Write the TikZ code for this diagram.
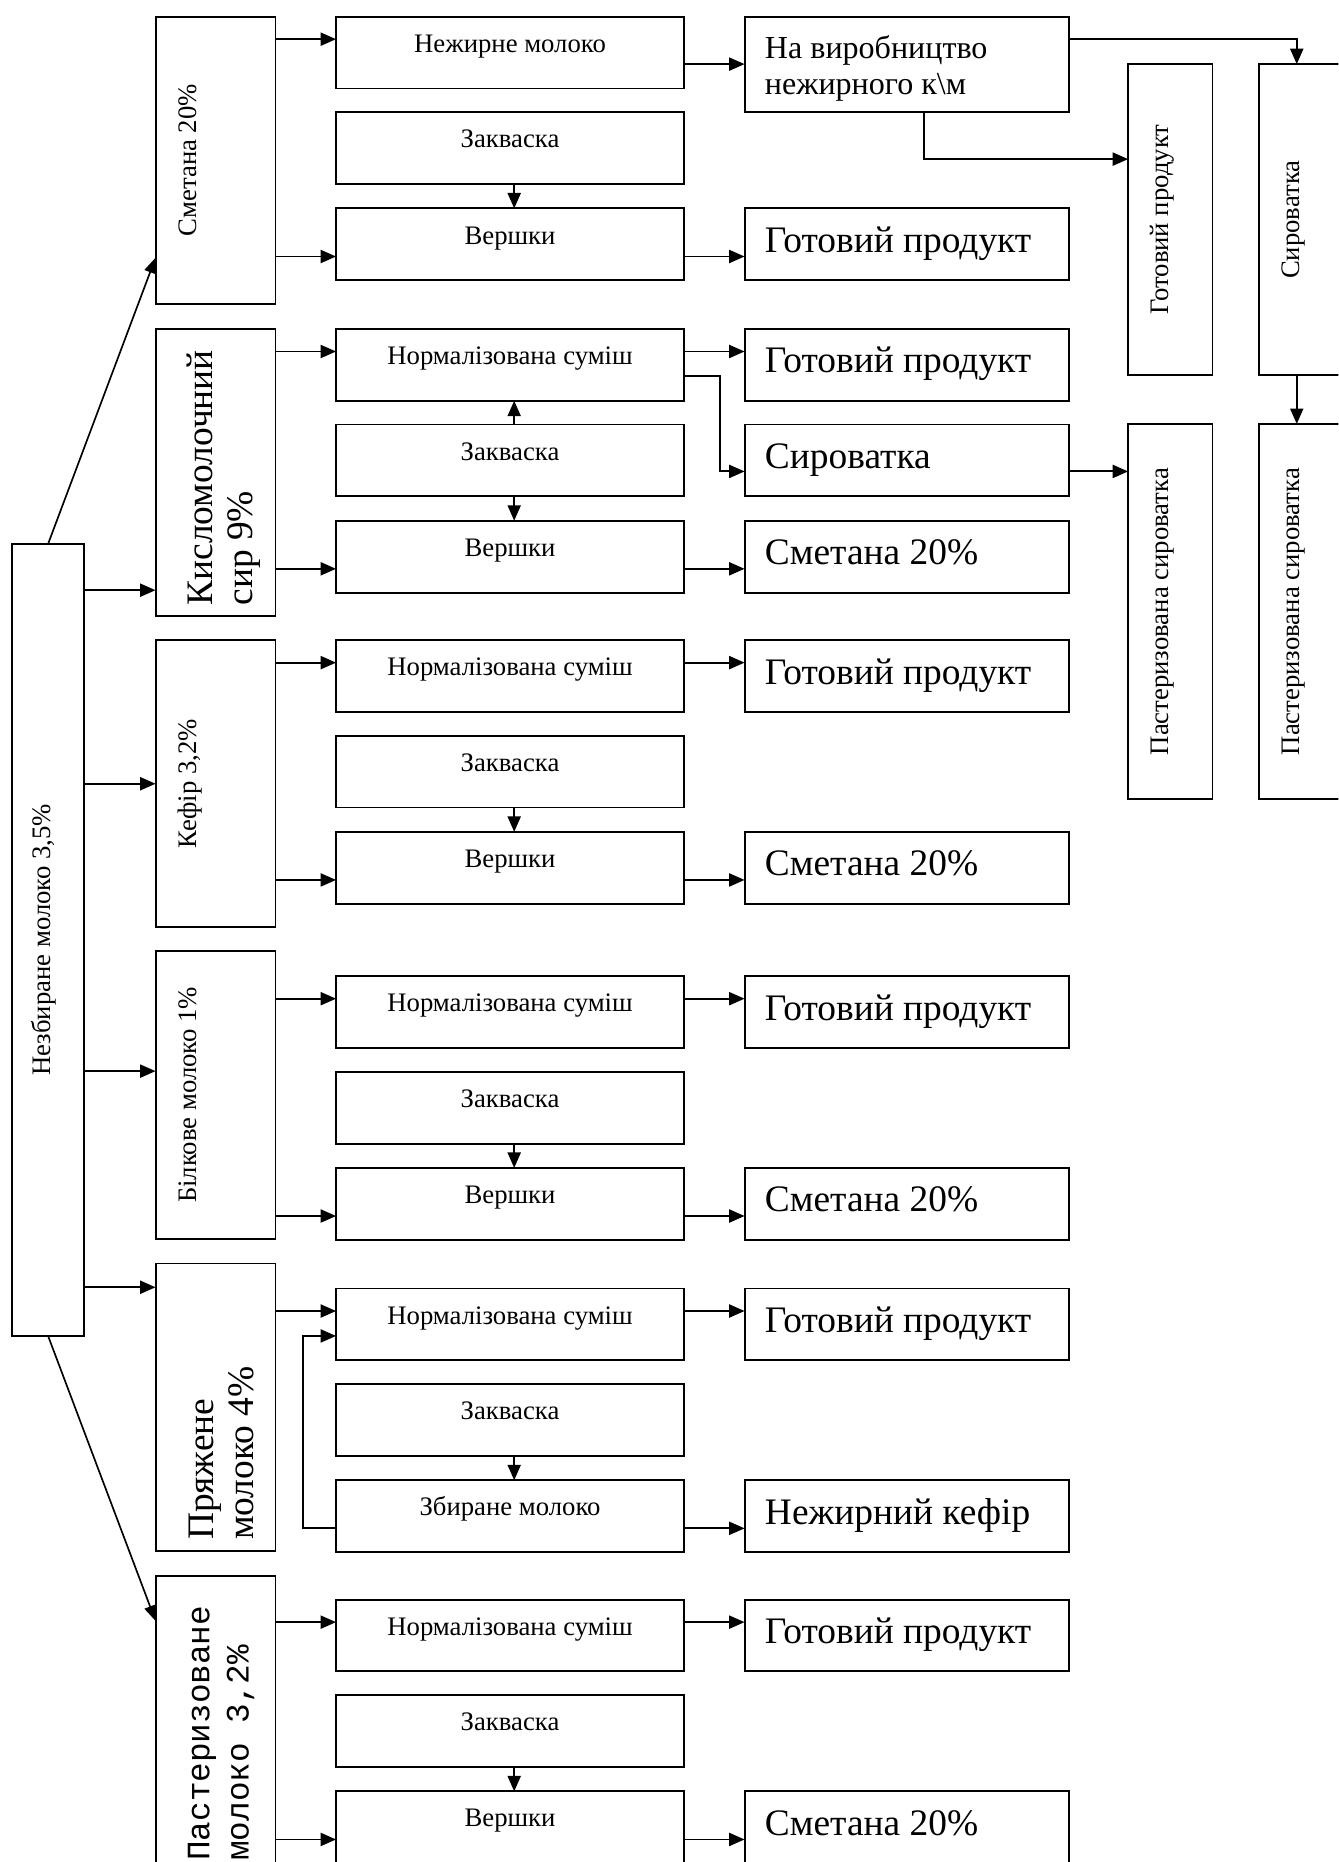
\documentclass[tikz,border=0pt]{standalone}
\usepackage{fontspec}
\setmainfont{Liberation Serif}
\newfontfamily\monofam{Liberation Mono}
\usetikzlibrary{arrows.meta}
\tikzset{
 box/.style={draw, line width=1.6pt, inner sep=0pt, outer sep=0pt, rectangle, anchor=north west},
 stxt/.style={font=\fontsize{22.5}{26}\selectfont, inner sep=0pt},
 btxt/.style={font=\fontsize{31.5}{34}\selectfont, inner sep=0pt},
 vtxt/.style={stxt, rotate=90, anchor=mid},
 conn/.style={line width=1.6pt, -{Triangle[length=13pt,width=11pt]}},
 diag/.style={line width=1.4pt, -{Triangle[length=13pt,width=10pt]}},
}
\newcommand\cbox[3]{\node[box,minimum width=293pt,minimum height=60.5pt] (#1) at (283pt,-#2pt) {};
 \node[stxt,anchor=base] (#1t) at ([yshift=-30pt]#1.north) {#3};}
\newcommand\dbox[3]{\node[box,minimum width=273pt,minimum height=60.5pt] (#1) at (627pt,-#2pt) {};
 \node[btxt,anchor=base west] (#1t) at ([xshift=17pt,yshift=-37pt]#1.north west) {#3};}
\newcommand\bbox[2]{\node[box,minimum width=101pt,minimum height=242pt] (#1) at (131pt,-#2pt) {};}
\newcommand\ycoord[1]{\coordinate (y#1) at (0pt,-#1pt);}
\newcommand\xcoord[1]{\coordinate (x#1) at (#1pt,0pt);}
\begin{document}
\begin{tikzpicture}
\fill[white] (0pt,0pt) rectangle (1127pt,-1568pt);
\useasboundingbox (0pt,0pt) rectangle (1127pt,-1568pt);
\clip (0pt,0pt) rectangle (1127pt,-1568pt);

% helper coordinates
\ycoord{33}\ycoord{54}\ycoord{134}\ycoord{216}\ycoord{217}
\ycoord{296}\ycoord{317}\ycoord{397}\ycoord{479}\ycoord{497}
\ycoord{558}\ycoord{660}\ycoord{741}\ycoord{841}\ycoord{902}\ycoord{1024}
\ycoord{1084}\ycoord{1104}\ycoord{1125}\ycoord{1287}\ycoord{1365}\ycoord{1366}\ycoord{1549}
\xcoord{255}\xcoord{433}\xcoord{606}\xcoord{778}\xcoord{1092}

% main source
\node[box,minimum width=61pt,minimum height=667pt] (A) at (10pt,-458pt) {};
\node[vtxt] (At) at (A.center) {Незбиране молоко 3,5\%};

% product boxes
\bbox{B1}{14}\bbox{B2}{277}\bbox{B3}{539}\bbox{B4}{801}\bbox{B5}{1064}\bbox{B6}{1327}
\node[vtxt] (B1t) at (163pt,-135pt) {Сметана 20\%};
\node[btxt,rotate=90,anchor=north west,align=left] (B2t) at (157pt,-510pt) {Кисломолочний\\сир 9\%};
\node[vtxt] (B3t) at (163pt,-660pt) {Кефір 3,2\%};
\node[vtxt] (B4t) at (163pt,-922pt) {Білкове молоко 1\%};
\node[btxt,rotate=90,anchor=north west,align=left] (B5t) at (159pt,-1297pt) {Пряжене\\молоко 4\%};
\node[font=\monofam\fontsize{27.5}{33}\selectfont,inner sep=0pt,rotate=90,anchor=north west,align=left] (B6t) at (158pt,-1567pt) {Пастеризоване\\молоко 3,2\%};

% row 1
\cbox{C1a}{14}{Нежирне молоко}
\cbox{C1b}{94.5}{Закваска}
\cbox{C1c}{175.5}{Вершки}
\node[box,minimum width=273pt,minimum height=80pt] (D1a) at (627pt,-14pt) {};
\node[font=\fontsize{27}{30}\selectfont,inner sep=0pt,align=left,anchor=north west] (D1at) at ([xshift=17pt,yshift=-16pt]D1a.north west) {На виробництво\\нежирного к\textbackslash м};
\dbox{D1c}{175.5}{Готовий продукт}
% row 2
\cbox{C2a}{277}{Нормалізована суміш}
\cbox{C2b}{357.5}{Закваска}
\cbox{C2c}{438.5}{Вершки}
\dbox{D2a}{277}{Готовий продукт}
\dbox{D2b}{357.5}{Сироватка}
\dbox{D2c}{438.5}{Сметана 20\%}
% row 3
\cbox{C3a}{539}{Нормалізована суміш}
\cbox{C3b}{619.5}{Закваска}
\cbox{C3c}{700.5}{Вершки}
\dbox{D3a}{539}{Готовий продукт}
\dbox{D3c}{700.5}{Сметана 20\%}
% row 4
\cbox{C4a}{822}{Нормалізована суміш}
\cbox{C4b}{902.5}{Закваска}
\cbox{C4c}{983.5}{Вершки}
\dbox{D4a}{822}{Готовий продукт}
\dbox{D4c}{983.5}{Сметана 20\%}
% row 5
\cbox{C5a}{1085}{Нормалізована суміш}
\cbox{C5b}{1165.5}{Закваска}
\cbox{C5c}{1246.5}{Збиране молоко}
\dbox{D5a}{1085}{Готовий продукт}
\dbox{D5c}{1246.5}{Нежирний кефір}
% row 6
\cbox{C6a}{1347}{Нормалізована суміш}
\cbox{C6b}{1427.5}{Закваска}
\cbox{C6c}{1508.5}{Вершки}
\dbox{D6a}{1347}{Готовий продукт}
\dbox{D6c}{1508.5}{Сметана 20\%}

% right columns
\node[box,minimum width=71pt,minimum height=262pt] (E1) at (950pt,-54pt) {};
\node[box,minimum width=71pt,minimum height=316pt] (E2) at (950pt,-357pt) {};
\node[box,minimum width=71pt,minimum height=262pt] (F1) at (1060pt,-54pt) {};
\node[box,minimum width=71pt,minimum height=316pt] (F2) at (1060pt,-357pt) {};
\node[vtxt] (E1t) at (982pt,-185pt) {Готовий продукт};
\node[vtxt] (E2t) at (982pt,-515pt) {Пастеризована сироватка};
\node[vtxt] (F1t) at (1092pt,-185pt) {Сироватка};
\node[vtxt] (F2t) at (1092pt,-515pt) {Пастеризована сироватка};

% connectors from source
\draw[diag] (A.north) -- (B1.west |- y217);
\draw[diag] (A.south) -- (B6.west |- y1365);
\draw[conn] (A.east |- y497) -- (B2.west |- y497);
\draw[conn] (A.east |- y660) -- (B3.west |- y660);
\draw[conn] (A.east |- y902) -- (B4.west |- y902);
\draw[conn] (A.east |- y1084) -- (B5.west |- y1084);

% product -> process
\draw[conn] (B1.east |- y33) -- (C1a.west |- y33);
\draw[conn] (B1.east |- y216) -- (C1c.west |- y216);
\draw[conn] (B2.east |- y296) -- (C2a.west |- y296);
\draw[conn] (B2.east |- y479) -- (C2c.west |- y479);
\draw[conn] (B3.east |- y558) -- (C3a.west |- y558);
\draw[conn] (B3.east |- y741) -- (C3c.west |- y741);
\draw[conn] (B4.east |- y841) -- (C4a.west |- y841);
\draw[conn] (B4.east |- y1024) -- (C4c.west |- y1024);
\draw[conn] (B5.east |- y1104) -- (C5a.west |- y1104);
\draw[conn] (B6.east |- y1366) -- (C6a.west |- y1366);
\draw[conn] (B6.east |- y1549) -- (C6c.west |- y1549);

% starter arrows
\draw[conn] (x433 |- C1b.south) -- (x433 |- C1c.north);
\draw[conn] (x433 |- C2b.north) -- (x433 |- C2a.south);
\draw[conn] (x433 |- C2b.south) -- (x433 |- C2c.north);
\draw[conn] (x433 |- C3b.south) -- (x433 |- C3c.north);
\draw[conn] (x433 |- C4b.south) -- (x433 |- C4c.north);
\draw[conn] (x433 |- C5b.south) -- (x433 |- C5c.north);
\draw[conn] (x433 |- C6b.south) -- (x433 |- C6c.north);

% loop in row 5
\draw[conn] (C5c.west |- y1287) -- (x255 |- y1287) -- (x255 |- y1125) -- (C5a.west |- y1125);

% process -> result
\draw[conn] (C1a.east |- y54) -- (D1a.west |- y54);
\draw[conn] (C1c.east |- y216) -- (D1c.west |- y216);
\draw[conn] (C2a.east |- y296) -- (D2a.west |- y296);
\draw[conn] (C2a.east |- y317) -- (x606 |- y317) -- (x606 |- y397) -- (D2b.west |- y397);
\draw[conn] (C2c.east |- y479) -- (D2c.west |- y479);
\draw[conn] (C3a.east |- y558) -- (D3a.west |- y558);
\draw[conn] (C3c.east |- y741) -- (D3c.west |- y741);
\draw[conn] (C4a.east |- y841) -- (D4a.west |- y841);
\draw[conn] (C4c.east |- y1024) -- (D4c.west |- y1024);
\draw[conn] (C5a.east |- y1104) -- (D5a.west |- y1104);
\draw[conn] (C5c.east |- y1287) -- (D5c.west |- y1287);
\draw[conn] (C6a.east |- y1366) -- (D6a.west |- y1366);
\draw[conn] (C6c.east |- y1549) -- (D6c.west |- y1549);

% right side
\draw[conn] (D1a.east |- y33) -- (x1092 |- y33) -- (x1092 |- F1.north);
\draw[conn] (x778 |- D1a.south) -- (x778 |- y134) -- (E1.west |- y134);
\draw[conn] (D2b.east |- y397) -- (E2.west |- y397);
\draw[conn] (x1092 |- F1.south) -- (x1092 |- F2.north);
\end{tikzpicture}
\end{document}
